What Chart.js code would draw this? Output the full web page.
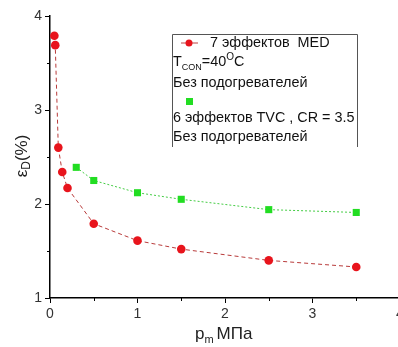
<!DOCTYPE html>
<html><head><meta charset="utf-8">
<script src="https://cdn.jsdelivr.net/npm/chart.js@4/dist/chart.umd.min.js"></script>
<style>html,body{margin:0;padding:0;background:#fff;overflow:hidden;width:398px;height:347px}canvas{display:block}</style>
</head><body>
<canvas id="c" width="420" height="347"></canvas>
<script>
const medX = [0.05, 0.06, 0.095, 0.14, 0.2, 0.5, 1.0, 1.5, 2.5, 3.5];
const medY = [3.79, 3.69, 2.60, 2.34, 2.17, 1.79, 1.61, 1.52, 1.40, 1.33];
const tvcX = [0.3, 0.5, 1.0, 1.5, 2.5, 3.5];
const tvcY = [2.39, 2.25, 2.12, 2.05, 1.94, 1.91];
const xTicks = [0, 1, 2, 3, 4];
const yTicks = [1, 2, 3, 4];
const legendLines = ["7 эффектов  MED", "T_CON=40°C", "Без подогревателей", "", "6 эффектов TVC , CR = 3.5", "Без подогревателей"];

const pts = (xs, ys) => xs.map((x, i) => ({x, y: ys[i]}));
const FONT = '"Liberation Sans", Arial, sans-serif';

const deco = {
  id: 'deco',
  afterDraw(chart) {
    const ctx = chart.ctx, xs = chart.scales.x, ys = chart.scales.y;
    const ca = chart.chartArea;
    ctx.save();
    ctx.strokeStyle = '#000'; ctx.lineWidth = 1;
    [0.5, 1.5, 2.5, 3.5].forEach(v => {
      const px = Math.round(xs.getPixelForValue(v)) + 0.5;
      ctx.beginPath(); ctx.moveTo(px, ca.bottom); ctx.lineTo(px, ca.bottom + 3); ctx.stroke();
    });
    [1.5, 2.5, 3.5].forEach(v => {
      const py = Math.round(ys.getPixelForValue(v)) + 0.5;
      ctx.beginPath(); ctx.moveTo(ca.left, py); ctx.lineTo(ca.left - 3, py); ctx.stroke();
    });
    // y title
    ctx.fillStyle = '#222';
    ctx.translate(22, 156);
    ctx.rotate(-Math.PI / 2);
    ctx.textBaseline = 'middle';
    ctx.font = '17px ' + FONT;
    const w1 = ctx.measureText('ε').width;
    ctx.font = '12px ' + FONT;
    const w2 = ctx.measureText('D').width;
    ctx.font = '17px ' + FONT;
    const w3 = ctx.measureText('(%)').width;
    let sx = -(w1 + w2 + w3) / 2;
    ctx.textAlign = 'left';
    ctx.fillText('ε', sx, 0); sx += w1;
    ctx.font = '12px ' + FONT; ctx.fillText('D', sx, 5); sx += w2;
    ctx.font = '17px ' + FONT; ctx.fillText('(%)', sx, 0);
    ctx.restore();

    // x title
    ctx.save();
    ctx.fillStyle = '#222';
    ctx.textBaseline = 'alphabetic';
    ctx.font = '17px ' + FONT;
    let tx = 195;
    ctx.fillText('p', tx, 339); tx += ctx.measureText('p').width;
    ctx.font = '11px ' + FONT; ctx.fillText('m', tx, 343); tx += ctx.measureText('m').width + 3;
    ctx.font = '17px ' + FONT; ctx.fillText('МПа', tx, 339);
    ctx.restore();

    // legend box
    ctx.save();
    ctx.strokeStyle = '#555'; ctx.lineWidth = 1;
    ctx.beginPath();
    ctx.moveTo(172.5, 147); ctx.lineTo(172.5, 34.5); ctx.lineTo(357.5, 34.5); ctx.lineTo(357.5, 147);
    ctx.stroke();
    ctx.fillStyle = '#111';
    ctx.textBaseline = 'middle';
    const LF = '14.4px ' + FONT;
    ctx.font = LF;
    ctx.strokeStyle = '#c04040';
    ctx.beginPath(); ctx.moveTo(181, 43); ctx.lineTo(198, 43); ctx.stroke();
    ctx.fillStyle = '#e8141c';
    ctx.beginPath(); ctx.arc(189, 43, 3.5, 0, Math.PI * 2); ctx.fill();
    ctx.fillStyle = '#111';
    ctx.fillText(legendLines[0], 210, 43);
    let lx = 173;
    ctx.fillText('T', lx, 62); lx += ctx.measureText('T').width;
    ctx.font = '9px ' + FONT; ctx.fillText('CON', lx, 68); lx += ctx.measureText('CON').width;
    ctx.font = LF; ctx.fillText('=40', lx, 62); lx += ctx.measureText('=40').width;
    ctx.font = '10px ' + FONT; ctx.fillText('O', lx, 57); lx += ctx.measureText('O').width;
    ctx.font = LF; ctx.fillText('C', lx, 62);
    ctx.fillText(legendLines[2], 173, 83);
    ctx.fillStyle = '#22dd22';
    ctx.fillRect(186, 98, 7, 7);
    ctx.fillStyle = '#111';
    ctx.fillText(legendLines[4], 173, 118);
    ctx.fillText(legendLines[5], 173, 137);
    ctx.restore();
  }
};

new Chart(document.getElementById('c'), {
  type: 'scatter',
  data: {
    datasets: [
      {
        data: pts(medX, medY), showLine: true,
        borderColor: '#b83a3a', borderWidth: 1, borderDash: [4, 3],
        pointBackgroundColor: '#e8141c', pointBorderColor: '#e8141c', pointBorderWidth: 0,
        pointRadius: 4.3, pointStyle: 'circle'
      },
      {
        data: pts(tvcX, tvcY), showLine: true,
        borderColor: '#44cc44', borderWidth: 1, borderDash: [2, 2],
        pointBackgroundColor: '#22dd22', pointBorderColor: '#22dd22', pointBorderWidth: 0,
        pointRadius: 5, pointStyle: 'rect'
      }
    ]
  },
  options: {
    responsive: false, animation: false,
    layout: { padding: { top: 16, right: 20, left: 0, bottom: 0 } },
    plugins: { legend: { display: false }, tooltip: { enabled: false } },
    scales: {
      x: {
        type: 'linear', min: 0, max: 4,
        afterBuildTicks: s => { s.ticks = xTicks.map(v => ({value: v})); },
        afterFit: s => { s.height = 49; },
        grid: { drawOnChartArea: false, drawTicks: true, tickLength: 5, color: '#000', tickColor: '#000' },
        border: { color: '#000', width: 1.5 },
        ticks: { font: { size: 14, family: FONT }, color: '#333', padding: 3, maxRotation: 0 }
      },
      y: {
        type: 'linear', min: 1, max: 4,
        afterBuildTicks: s => { s.ticks = yTicks.map(v => ({value: v})); },
        afterFit: s => { s.width = 50; },
        grid: { drawOnChartArea: false, drawTicks: true, tickLength: 5, color: '#000', tickColor: '#000' },
        border: { color: '#000', width: 1.5 },
        ticks: { font: { size: 14, family: FONT }, color: '#333', padding: 3 }
      }
    }
  },
  plugins: [deco]
});
</script>
</body></html>
